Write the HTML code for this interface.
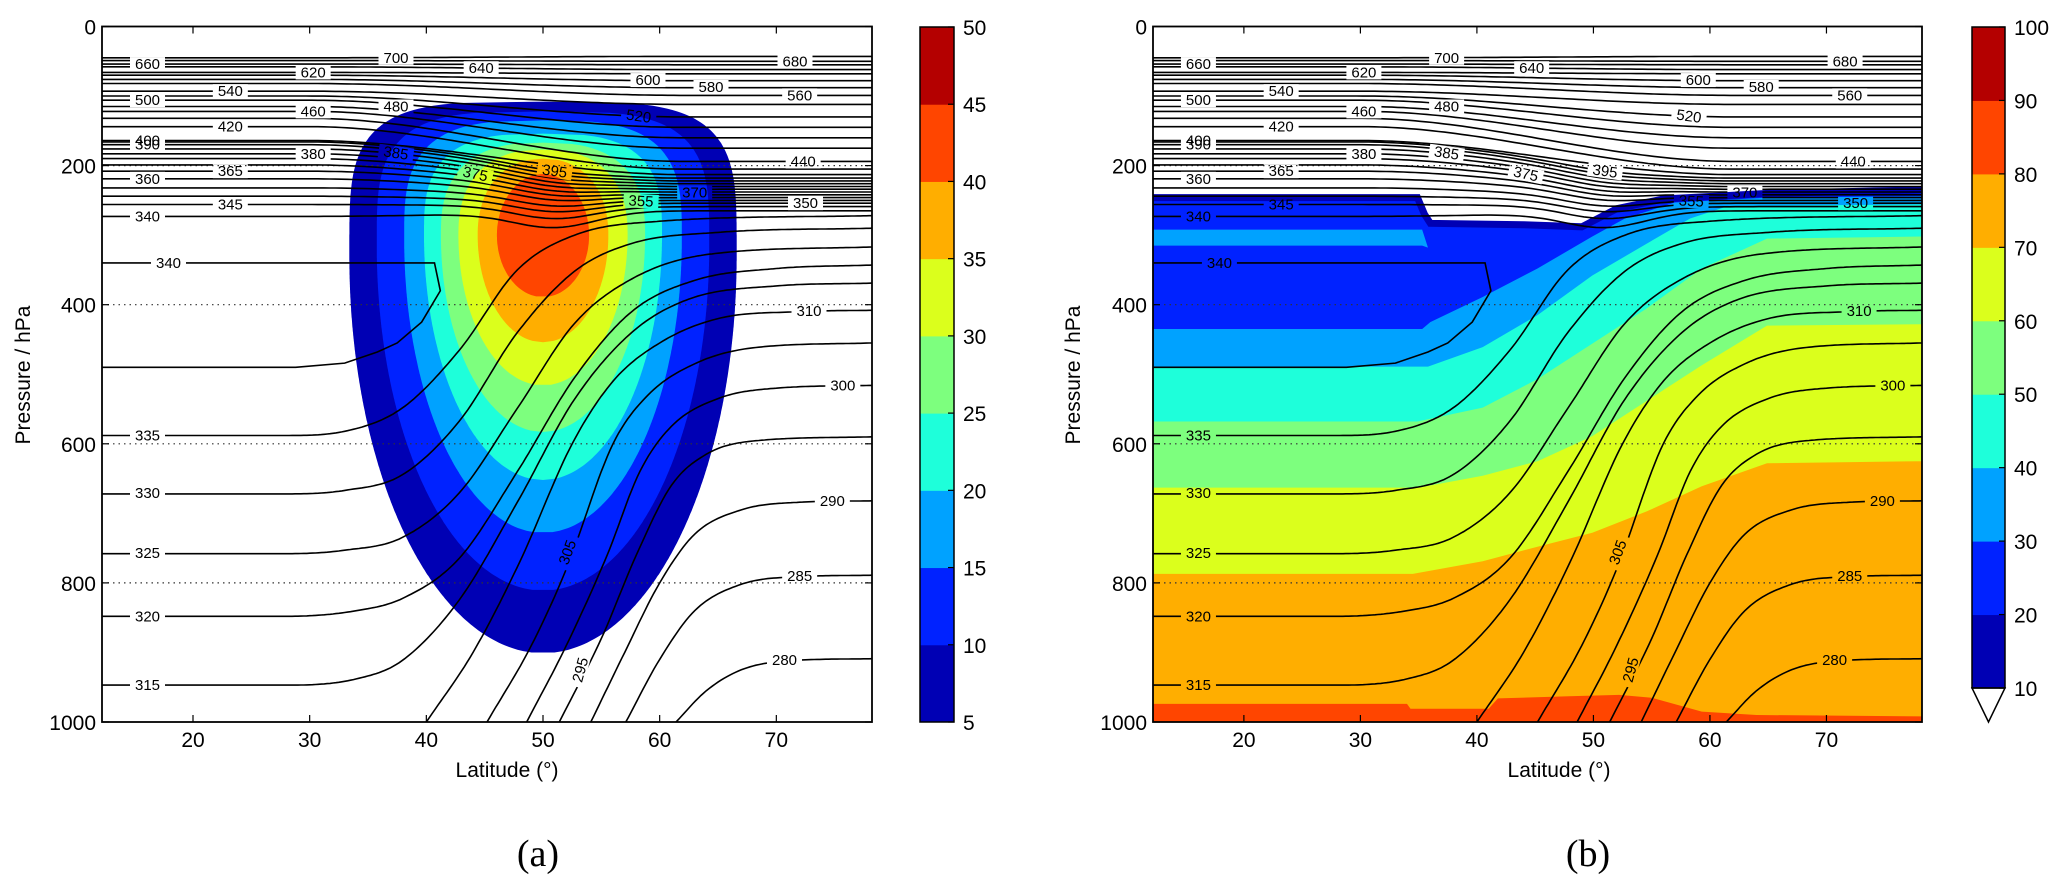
<!DOCTYPE html>
<html><head><meta charset="utf-8"><title>Jet and isentropes</title>
<style>
html,body{margin:0;padding:0;background:#fff;}
svg{display:block;font-family:"Liberation Sans","DejaVu Sans",sans-serif;}
</style></head>
<body>
<svg id="chart" width="2067" height="891" viewBox="0 0 2067 891" xmlns="http://www.w3.org/2000/svg"></svg>
<script>
// ---------- data ----------
const latTicks=[20,30,40,50,60,70];
const pTicks=[0,200,400,600,800,1000];
const gridP=[200,400,600,800];
const cbarATicks=[5,10,15,20,25,30,35,40,45,50];
const cbarBTicks=[10,20,30,40,50,60,70,80,90,100];

// stratospheric isentropes: left/right pressure, sag near jet
const stratLevels=[700,680,660,640,620,600,580,560,540,520,500,480,460,440,420,400,395,390,385,380,375,370,365,360,355,350,345,340];
const stratPLeft=[45,49,54,58,66,70,76,82,93,100,106,115,122,132,144,164,166,170,176,183,190,199,208,219,232,244,256,273];
const stratPRight=[43,50,55,62,68,78,88,99,112,130,145,160,175,194,205,213,218,222,226,230,234,238,242,246,250,254,259,265];
const stratSag=[0,0,0,0,0,0,0,0,0,0,0,0,0,0,0,0,4,5,6,7,8,9,10,11,13,15,18,22];

// tropospheric isentropes: node latitudes / pressures
const tropoLevels=[335,330,325,320,315,310,305,300,295,290,285,280];
const tropoLat=[
 [12.2,28,33,37.9,42.8,47.8,52.7,60,78.2],
 [12.2,28,33,37.9,42.8,47.8,52.7,57.6,65,78.2],
 [12.2,28,33,37.9,42.8,47.8,52.7,57.6,64,78.2],
 [12.2,28,34,38,42.8,47.8,52.7,57.6,63,70,78.2],
 [12.2,28,34,37.9,42.8,47.8,52.7,57.6,62.5,70,78.2],
 [40,44,48,52.5,56,60,65,72,78.2],
 [45.2,49,52,56,59,63,68,78.2],
 [48.6,52,55.5,58.3,61,65,70,78.2],
 [51.4,55,58,61,64,68,78.2],
 [54.1,57,60,63,67,72,78.2],
 [57.1,60,63,67,72,78.2],
 [61.4,64,67,71,78.2]];
const tropoP=[
 [588,588,582,549,466,350,300,280,272],
 [672,672,667,645,568,440,352,312,296,290],
 [758,758,753,735,671,549,427,363,328,317],
 [848,848,840,822,765,640,505,410,365,348,343],
 [947,947,938,912,825,684,536,440,392,373,369],
 [1000,900,770,600,510,455,420,410,408],
 [1000,890,780,600,530,485,462,455],
 [1000,890,760,640,575,535,520,516],
 [1000,880,760,660,615,596,590],
 [1000,900,800,730,695,684,682],
 [1000,910,840,802,791,789],
 [1000,955,925,912,909]];
// folded 340 K contour
const foldLat=[12.2,40.7,41.2,39.6,37.5,35.8,33,28.8,12.2];
const foldP=[340,340,380,425,455,468,484,490,490];

// contour labels
const labText=['660','500','400','390','360','340','335','330','325','320','315','340','540','420','365','345','620','460','380','700','480','385','640','375','395','355','600','580','520','680','560','440','350','370','310','300','290','285','280','305','295'];
const labLat=[16.1,16.1,16.1,16.1,16.1,16.1,16.1,16.1,16.1,16.1,16.1,17.9,23.2,23.2,23.2,23.2,30.3,30.3,30.3,37.4,37.4,37.4,44.7,44.2,51,58.4,59,64.4,58.2,71.6,72,72.3,72.5,63,72.8,75.7,74.8,72,70.7,52.1,53.2];
const labP=[54,106,164,170,219,273,588,671,757,848,947,340,93,144,208,256,66,122,183,45,115,182,60,212,208,251,77,87,129,50,99,194,254,239,409,516,682,790,911,756,925];
const labRot=[0,0,0,0,0,0,0,0,0,0,0,0,0,0,0,0,0,0,0,0,0,8,0,12,8,3,0,0,8,0,0,0,0,0,0,0,0,0,0,-70,-75];

// panel (a): jet speed filled contours
const jetLevels=[5,10,15,20,25,30,35,40];
const jetTop=[108,122,135,154,167,177,190,212];
const jetBottom=[901,811,728,652,583,516,454,389];
const jetHalfWidth=[16.6,14.25,11.9,10.2,8.75,7.25,5.6,3.95];
const jetPWidest=[330,315,305,300,300,300,300,300];
const jetCenterLat=[50,50,50,50,50,50,50,50];
const jetTopExp=[4,3.6,3.2,3,2.6,2.4,2.2,2];
const jetBotExp=[2,2,2,2,2,2,2,2];

// panel (b): band boundaries (region below each boundary gets next level)
const bTopLat=[12.2,34.9,35.5,36,44,49,52,56,65,78.2];
const bTopP=[246,246,270,283,285,288,262,248,240,235];
const bBoundLevels=[30,40,50,60,70,80];
const bBoundLat=[
 [12.2,35.3,36,40.5,45.2,49.9,52.7,57,65,78.2],
 [12.2,35.8,40.5,45.2,49.9,54.6,58.3,61.6,78.2],
 [12.2,34.9,40.5,45.2,49.9,54.6,59.3,64.9,78.2],
 [12.2,35,40.5,45.2,49.9,54.6,59.3,64.9,78.2],
 [12.2,34.5,40.5,45.2,49.9,54.6,59.3,64.9,78.2],
 [12.2,34,34.3,41,41.8,47.9,52.2,55,59.3,64,78.2]];
const bBoundP=[
 [435,435,425,389,348,302,276,253,246,244],
 [489,489,461,415,358,312,276,258,256],
 [568,568,548,507,456,405,348,305,302],
 [663,663,646,625,589,538,487,430,428],
 [787,787,769,748,728,697,661,628,625],
 [974,974,981,981,966,963,961,965,985,990,992]];
const bStripLat=[12.2,35.3,35.8,35.3,12.2];
const bStripP=[292,292,318,315,315];

// ---------- layout ----------
const LAT0=12.2, LAT1=78.2, PY0=26.5, PY1=722;
const panels=[{x0:102,x1:872,cb:920,cbw:34,name:'a'},{x0:1153,x1:1922,cb:1972,cbw:33,name:'b'}];
const colors=['#0000b4','#0022ff','#00a2ff','#1effda','#7dff7e','#dbff1c','#ffae00','#ff4500','#b40000'];
const NS='http://www.w3.org/2000/svg';
const svg=document.getElementById('chart');
function mk(tag,attrs,parent){const e=document.createElementNS(NS,tag);for(const k in attrs)e.setAttribute(k,attrs[k]);(parent||svg).appendChild(e);return e;}
function X(pan,lat){return pan.x0+(lat-LAT0)/(LAT1-LAT0)*(pan.x1-pan.x0);}
function Y(p){return PY0+p/1000*(PY1-PY0);}
// monotone cubic (Fritsch-Carlson) sampling of p(lat)
function monotone(xs,ys,step){
  const n=xs.length,d=[],m=new Array(n);
  for(let i=0;i<n-1;i++)d.push((ys[i+1]-ys[i])/(xs[i+1]-xs[i]));
  m[0]=d[0];m[n-1]=d[n-2];
  for(let i=1;i<n-1;i++){m[i]=(d[i-1]*d[i]<=0)?0:(d[i-1]+d[i])/2;}
  for(let i=0;i<n-1;i++){
    if(d[i]===0){m[i]=0;m[i+1]=0;continue;}
    const a=m[i]/d[i],b=m[i+1]/d[i],s=a*a+b*b;
    if(s>9){const t=3/Math.sqrt(s);m[i]=t*a*d[i];m[i+1]=t*b*d[i];}
  }
  const out=[];
  for(let i=0;i<n-1;i++){
    const h=xs[i+1]-xs[i];
    const k=Math.max(2,Math.ceil(h/step));
    for(let j=0;j<k;j++){
      const t=j/k,t2=t*t,t3=t2*t;
      const y=(2*t3-3*t2+1)*ys[i]+(t3-2*t2+t)*h*m[i]+(-2*t3+3*t2)*ys[i+1]+(t3-t2)*h*m[i+1];
      out.push([xs[i]+t*h,y]);
    }
  }
  out.push([xs[n-1],ys[n-1]]);
  return out;
}
const defs=mk('defs',{});

panels.forEach((pan,pi)=>{
  const W=pan.x1-pan.x0, H=PY1-PY0;
  const cp=mk('clipPath',{id:'clip'+pi},defs);
  mk('rect',{x:pan.x0,y:PY0,width:W,height:H},cp);
  const g=mk('g',{'clip-path':'url(#clip'+pi+')'});
  
  

  // ---- fills ----
  if(pi===0){
    jetLevels.forEach((lv,k)=>{
      const right=[],left=[];
      for(let p=jetTop[k];p<=jetBottom[k]+0.01;p+=2){
        const pm=jetPWidest[k];
        let t,n;
        if(p<=pm){t=(pm-p)/(pm-jetTop[k]);n=jetTopExp[k];}else{t=(p-pm)/(jetBottom[k]-pm);n=jetBotExp[k];}
        const w=jetHalfWidth[k]*Math.pow(Math.max(0,1-Math.pow(Math.min(t,1),n)),1/n);
        right.push([X(pan,jetCenterLat[k]+w),Y(p)]);
        left.push([X(pan,jetCenterLat[k]-w),Y(p)]);
      }
      const pts=right.concat(left.reverse());
      const poly=mk('polygon',{points:pts.map(q=>q[0].toFixed(1)+','+q[1].toFixed(1)).join(' '),fill:colors[k],stroke:'none'},g);
      
      
    });
  } else {
    const topPts=bTopLat.map((l,i)=>[X(pan,l),Y(bTopP[i])]);
    const base=topPts.concat([[X(pan,LAT1),Y(1000)],[X(pan,LAT0),Y(1000)]]);
    const basePoly=mk('polygon',{points:base.map(q=>q.join(',')).join(' '),fill:colors[1]},g);
    
    
    const topEdge=mk('polyline',{points:topPts.map(q=>q.join(',')).join(' '),fill:'none',stroke:colors[0],'stroke-width':7},g);
    
    
    const strip=mk('polygon',{points:bStripLat.map((l,i)=>X(pan,l)+','+Y(bStripP[i])).join(' '),fill:colors[2]},g);
    
    
    bBoundLevels.forEach((lv,k)=>{
      const pts=bBoundLat[k].map((l,i)=>[X(pan,l),Y(bBoundP[k][i])]).concat([[X(pan,LAT1),Y(1000)],[X(pan,LAT0),Y(1000)]]);
      const poly=mk('polygon',{points:pts.map(q=>q[0].toFixed(1)+','+q[1].toFixed(1)).join(' '),fill:colors[k+2]},g);
      
      
    });
  }

  // grid
  gridP.forEach(p=>{
    const l=mk('line',{x1:pan.x0,x2:pan.x1,y1:Y(p),y2:Y(p),stroke:'#333','stroke-width':1.2,'stroke-dasharray':'1.5,4'},g);
    
    
  });

  // ---- contours with label gaps ----
  const mask=mk('mask',{id:'mask'+pi,maskUnits:'userSpaceOnUse',x:0,y:0,width:2067,height:891},defs);
  mk('rect',{x:0,y:0,width:2067,height:891,fill:'#fff'},mask);
  labText.forEach((t,i)=>{
    const cx=X(pan,labLat[i]),cy=Y(labP[i]),w=t.length*9+8;
    mk('rect',{x:cx-w/2,y:cy-7,width:w,height:14,fill:'#000',transform:'rotate('+labRot[i]+' '+cx+' '+cy+')'},mask);
  });
  const cg=mk('g',{mask:'url(#mask'+pi+')',fill:'none',stroke:'#000','stroke-width':1.6},g);
  
  
  stratLevels.forEach((lv,k)=>{
    const pts=[];
    for(let lat=LAT0;lat<=LAT1+0.01;lat+=0.5){
      let t=Math.min(1,Math.max(0,(lat-30)/32));const s=t*t*(3-2*t);
      const p=stratPLeft[k]+(stratPRight[k]-stratPLeft[k])*s+stratSag[k]*Math.exp(-Math.pow((lat-51)/5,2));
      pts.push(X(pan,lat).toFixed(1)+','+Y(p).toFixed(1));
    }
    const pl=mk('polyline',{points:pts.join(' ')},cg);
    
    
  });
  tropoLevels.forEach((lv,k)=>{
    const pts=monotone(tropoLat[k],tropoP[k],0.25).map(q=>X(pan,q[0]).toFixed(1)+','+Y(q[1]).toFixed(1));
    const pl=mk('polyline',{points:pts.join(' ')},cg);
    
    
  });
  const fold=mk('polyline',{points:foldLat.map((l,i)=>X(pan,l)+','+Y(foldP[i])).join(' ')},cg);
  
  

  labText.forEach((t,i)=>{
    const cx=X(pan,labLat[i]),cy=Y(labP[i]);
    const tx=mk('text',{x:cx,y:cy+5,'font-size':15,'text-anchor':'middle',fill:'#000',transform:'rotate('+labRot[i]+' '+cx+' '+cy+')'},g);
    tx.textContent=t;
    
    
  });

  // ---- axes frame & ticks ----
  const frame=mk('rect',{x:pan.x0,y:PY0,width:W,height:H,fill:'none',stroke:'#000','stroke-width':1.8});
  
  
  latTicks.forEach(l=>{
    const x=X(pan,l);
    const t1=mk('line',{x1:x,x2:x,y1:PY1,y2:PY1-7,stroke:'#000','stroke-width':1.2});
    
    
    const t2=mk('line',{x1:x,x2:x,y1:PY0,y2:PY0+7,stroke:'#000','stroke-width':1.2});
    
    
    const lb=mk('text',{x:x,y:747,'font-size':21,'text-anchor':'middle'});
    lb.textContent=l;
    
    
  });
  pTicks.forEach(p=>{
    const y=Y(p);
    const t1=mk('line',{x1:pan.x0,x2:pan.x0+7,y1:y,y2:y,stroke:'#000','stroke-width':1.2});
    
    
    const t2=mk('line',{x1:pan.x1,x2:pan.x1-7,y1:y,y2:y,stroke:'#000','stroke-width':1.2});
    
    
    const lb=mk('text',{x:pan.x0-6,y:y+8,'font-size':21,'text-anchor':'end'});
    lb.textContent=p;
    
    
  });
  const xt=mk('text',{x:pi===0?507:1559,y:777,'font-size':21,'text-anchor':'middle'});
  xt.textContent='Latitude (°)';
  
  
  const yx=pi===0?30:1080, yy=375;
  const yt=mk('text',{x:yx,y:yy,'font-size':21,'text-anchor':'middle',transform:'rotate(-90 '+yx+' '+yy+')'});
  yt.textContent='Pressure / hPa';
  
  
  const cap=mk('text',{x:pi===0?538:1588,y:866,'font-size':38,'text-anchor':'middle','font-family':'"Liberation Serif","DejaVu Serif",serif'});
  cap.textContent='('+pan.name+')';
  
  

  // ---- colorbar ----
  const ticks=pi===0?cbarATicks:cbarBTicks;
  const cbTop=27, cbBot=pi===0?722:688;
  const n=ticks.length-1, bh=(cbBot-cbTop)/n;
  for(let k=0;k<n;k++){
    const r=mk('rect',{x:pan.cb,y:cbBot-(k+1)*bh,width:pan.cbw,height:bh+0.5,fill:colors[k]});
    
    
  }
  if(pi===1){
    const tri=mk('polygon',{points:pan.cb+','+cbBot+' '+(pan.cb+pan.cbw)+','+cbBot+' '+(pan.cb+pan.cbw/2)+',722',fill:'#fff',stroke:'#000','stroke-width':1.5});
    
    
  }
  const cf=mk('rect',{x:pan.cb,y:cbTop,width:pan.cbw,height:cbBot-cbTop,fill:'none',stroke:'#000','stroke-width':1.5});
  
  
  ticks.forEach((t,k)=>{
    const y=cbBot-k*bh;
    const tl=mk('line',{x1:pan.cb+pan.cbw,x2:pan.cb+pan.cbw-6,y1:y,y2:y,stroke:'#000','stroke-width':1.2});
    
    
    const lb=mk('text',{x:pan.cb+pan.cbw+9,y:y+8,'font-size':21});
    lb.textContent=t;
    
    
  });
});
</script>
</body></html>
